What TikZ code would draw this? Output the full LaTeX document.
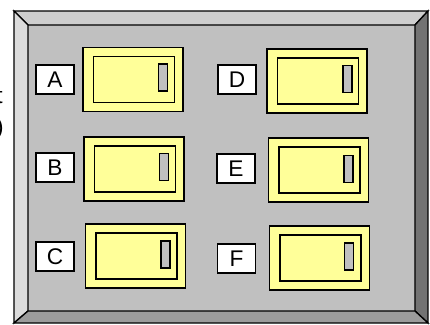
\documentclass[tikz,border=0pt]{standalone}
\usepackage{fontspec}
\setmainfont{Liberation Sans}
\usetikzlibrary{positioning}
\definecolor{ink}{HTML}{000000}
\definecolor{panel}{HTML}{C0C0C0}
\definecolor{bevtop}{HTML}{CECECE}
\definecolor{bevleft}{HTML}{DCDCDC}
\definecolor{bevright}{HTML}{737373}
\definecolor{bevbot}{HTML}{9C9C9C}
\definecolor{lamp}{HTML}{FFFF99}

\begin{document}
\begin{tikzpicture}[
  x=0.75pt, y=-0.75pt,
  font=\fontsize{17}{17}\selectfont,
  bevel/.style={draw=ink, line width=1pt, line join=miter},
  switch/.style={draw=ink, line width=1pt, fill=lamp, minimum width=75pt,
           minimum height=48pt, inner sep=0pt},
  face/.style={draw=ink, line width=1.1pt, fill=lamp, minimum width=60.75pt,
           minimum height=34.5pt, inner sep=0pt},
  slot/.style={draw=ink, line width=1pt, fill=panel, minimum width=6.75pt,
           minimum height=20.25pt, inner sep=0pt},
  tag/.style={draw=ink, line width=1pt, fill=white, text=ink, minimum width=28.5pt,
           minimum height=21.75pt, inner sep=0pt},
  cut/.style={anchor=east, inner sep=0pt, text=ink}
]
  \useasboundingbox (0,0) rectangle (430,325);

  % frame corners
  \coordinate (otl) at (14,11);
  \coordinate (otr) at (428,11);
  \coordinate (obr) at (428,323);
  \coordinate (obl) at (14,323);
  \coordinate (itl) at (28,25);
  \coordinate (itr) at (415,25);
  \coordinate (ibr) at (415,311);
  \coordinate (ibl) at (28,311);

  \fill[panel] (itl) rectangle (ibr);
  \draw[bevel, fill=bevtop]   (otl) -- (otr) -- (itr) -- (itl) -- cycle;
  \draw[bevel, fill=bevleft]  (otl) -- (itl) -- (ibl) -- (obl) -- cycle;
  \draw[bevel, fill=bevright] (otr) -- (obr) -- (ibr) -- (itr) -- cycle;
  \draw[bevel, fill=bevbot]   (obl) -- (ibl) -- (ibr) -- (obr) -- cycle;

  % text cut off at the left edge
  \node[cut] (cutT) at (3,96) {t};
  \node[cut] (cutP) at (4,129) {)};

  % left column
  \node[tag] (tagA) at (55,79.5) {A};
  \node[switch] (swA) at (133,79.5) {};
  \node[face] (faceA) [xshift=0.75pt] at (swA) {};
  \node[slot] (slotA) [xshift=22.5pt, yshift=1.5pt] at (swA) {};

  \node[tag] (tagB) at (55,167.5) {B};
  \node[switch] (swB) at (134,169) {};
  \node[face] (faceB) [xshift=0.75pt] at (swB) {};
  \node[slot] (slotB) [xshift=22.5pt, yshift=1.5pt] at (swB) {};

  \node[tag] (tagC) at (55,256.5) {C};
  \node[switch] (swC) at (135.5,256) {};
  \node[face] (faceC) [xshift=0.75pt] at (swC) {};
  \node[slot] (slotC) [xshift=22.5pt, yshift=1.2pt] at (swC) {};

  % right column
  \node[tag] (tagD) at (237,79.5) {D};
  \node[switch] (swD) at (317,81) {};
  \node[face] (faceD) [xshift=0.75pt] at (swD) {};
  \node[slot] (slotD) [xshift=22.8pt, yshift=1.5pt] at (swD) {};

  \node[tag] (tagE) at (236,168.5) {E};
  \node[switch] (swE) at (318.5,170) {};
  \node[face] (faceE) [xshift=0.75pt] at (swE) {};
  \node[slot] (slotE) [xshift=22.5pt, yshift=0.8pt] at (swE) {};

  \node[tag] (tagF) at (236.5,258.5) {F};
  \node[switch] (swF) at (319.5,258) {};
  \node[face] (faceF) [xshift=0.75pt] at (swF) {};
  \node[slot] (slotF) [xshift=22.2pt, yshift=1.2pt] at (swF) {};
\end{tikzpicture}
\end{document}
